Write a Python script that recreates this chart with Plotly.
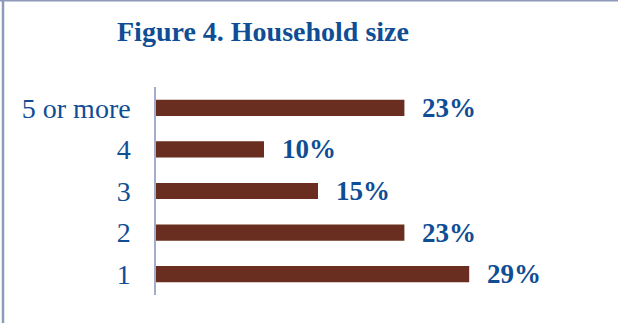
import plotly.graph_objects as go

# Household size distribution (share of households, %)
categories = ["1", "2", "3", "4", "5 or more"]
shares = [29, 23, 15, 10, 23]

W, H = 618, 323
M_L, M_R, M_T, M_B = 156, 30, 87, 28
X_MAX = 40

BAR_COLOR = "#6A2E20"
TEXT_BLUE = "#0F4D94"
FRAME = "#8E9ABA"
SERIF = "Liberation Serif, Times New Roman, serif"

plot_w = W - M_L - M_R
plot_h = H - M_T - M_B


def px_x(px):
    """Convert a page pixel x to paper coordinates."""
    return (px - M_L) / plot_w


def px_y(py):
    """Convert a page pixel y (from the top) to paper coordinates."""
    return (H - M_B - py) / plot_h


fig = go.Figure(
    go.Bar(
        x=shares,
        y=categories,
        orientation="h",
        width=0.39,
        marker=dict(color=BAR_COLOR, line=dict(width=0)),
        hoverinfo="skip",
    )
)

# value labels to the right of each bar (y given as category index)
for idx, val in enumerate(shares):
    fig.add_annotation(
        x=val, y=idx, xref="x", yref="y",
        text=f"{val}%", showarrow=False,
        xanchor="left", yanchor="middle", xshift=16,
        font=dict(family=SERIF, size=27, color=TEXT_BLUE, weight="bold"),
    )

# title
fig.add_annotation(
    x=px_x(263), y=px_y(31), xref="paper", yref="paper",
    text="<b>Figure 4. Household size</b>", showarrow=False,
    xanchor="center", yanchor="middle",
    font=dict(family=SERIF, size=28, color=TEXT_BLUE),
)

# chart frame: left and top edges
fig.add_shape(type="line", xref="paper", yref="paper",
              x0=px_x(3), x1=px_x(3), y0=px_y(0), y1=px_y(H),
              line=dict(color=FRAME, width=2.5))
fig.add_shape(type="line", xref="paper", yref="paper",
              x0=px_x(0), x1=px_x(W), y0=px_y(0.5), y1=px_y(0.5),
              line=dict(color=FRAME, width=2))

fig.update_layout(
    width=W, height=H,
    margin=dict(l=M_L, r=M_R, t=M_T, b=M_B),
    paper_bgcolor="white", plot_bgcolor="white",
    showlegend=False,
    xaxis=dict(range=[0, X_MAX], visible=False, fixedrange=True),
    yaxis=dict(
        type="category",
        categoryorder="array", categoryarray=categories,
        range=[-0.5, 4.5],
        showline=True, linecolor="#A3ADCB", linewidth=1.5,
        showgrid=False, zeroline=False, ticks="",
        ticklabelstandoff=18,
        tickfont=dict(family=SERIF, size=28, color=TEXT_BLUE),
        fixedrange=True,
    ),
)

fig.write_html("out.html")
